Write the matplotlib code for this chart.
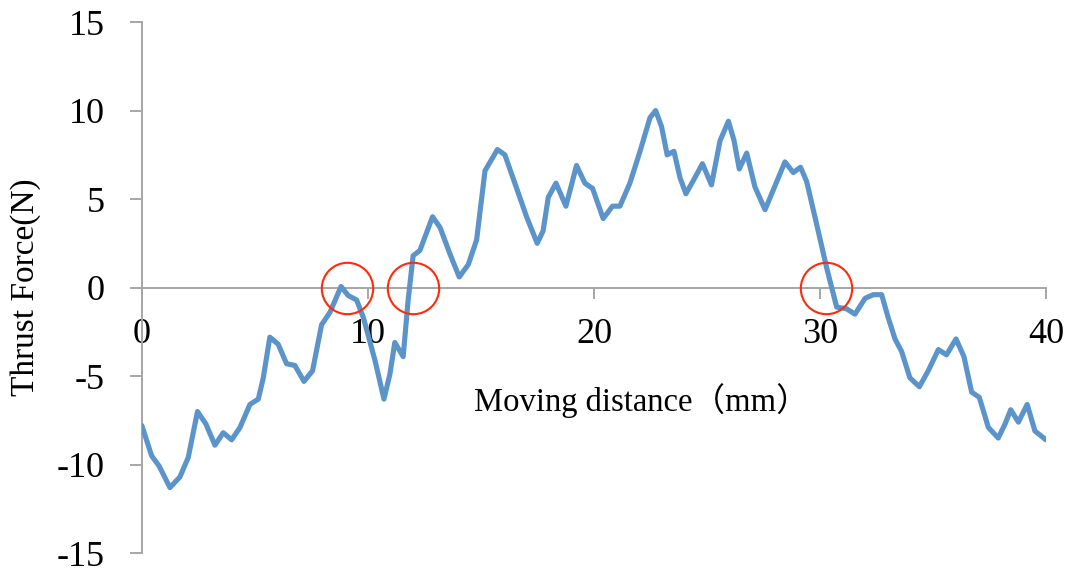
import matplotlib
matplotlib.use("Agg")
import matplotlib.pyplot as plt

# Data
distance = [0.0, 0.43, 0.77, 1.24, 1.68, 2.05, 2.46, 2.83, 3.23, 3.6,
            3.97, 4.34, 4.78, 5.15, 5.37, 5.66, 6.03, 6.4, 6.77, 7.17,
            7.55, 7.95, 8.32, 8.81, 9.13, 9.5, 9.8, 10.31, 10.71, 10.97,
            11.19, 11.56, 11.78, 12.0, 12.3, 12.86, 13.19, 13.63, 14.04, 14.44,
            14.81, 15.18, 15.73, 16.06, 16.5, 17.02, 17.49, 17.75, 17.98, 18.32,
            18.76, 19.23, 19.6, 19.94, 20.41, 20.82, 21.15, 21.59, 22.04, 22.48,
            22.73, 22.99, 23.24, 23.54, 23.81, 24.07, 24.42, 24.8, 25.2, 25.58,
            25.95, 26.2, 26.43, 26.76, 27.12, 27.57, 27.93, 28.45, 28.82, 29.14,
            29.41, 29.85, 30.3, 30.74, 31.18, 31.55, 32.0, 32.36, 32.73, 33.02,
            33.32, 33.61, 33.98, 34.4, 34.79, 35.24, 35.6, 36.02, 36.37, 36.71,
            37.05, 37.45, 37.89, 38.19, 38.44, 38.78, 39.17, 39.51, 40.0]
force = [-7.8, -9.5, -10.1, -11.3, -10.7, -9.6, -7.0, -7.7, -8.9, -8.2,
         -8.6, -7.9, -6.6, -6.3, -5.1, -2.8, -3.2, -4.3, -4.4, -5.3,
         -4.7, -2.1, -1.4, 0.06, -0.45, -0.7, -1.7, -4.1, -6.3, -4.9,
         -3.1, -3.9, -0.7, 1.8, 2.1, 4.0, 3.4, 1.9, 0.6, 1.3,
         2.7, 6.6, 7.8, 7.5, 5.9, 4.0, 2.5, 3.2, 5.1, 5.9,
         4.6, 6.9, 5.9, 5.6, 3.9, 4.6, 4.6, 5.9, 7.7, 9.6,
         10.0, 9.1, 7.5, 7.7, 6.2, 5.3, 6.1, 7.0, 5.8, 8.3,
         9.4, 8.3, 6.7, 7.6, 5.7, 4.4, 5.5, 7.1, 6.5, 6.8,
         6.0, 3.6, 1.1, -1.1, -1.2, -1.5, -0.6, -0.4, -0.4, -1.7,
         -2.9, -3.6, -5.1, -5.6, -4.7, -3.5, -3.8, -2.9, -3.9, -5.9,
         -6.2, -7.9, -8.5, -7.7, -6.9, -7.6, -6.6, -8.1, -8.6]

# zero crossings marked with red circles
crossings_x = [9.07, 11.99, 30.27]
crossings_y = [0, 0, 0]

xticks = [0, 10, 20, 30, 40]
yticks = [-15, -10, -5, 0, 5, 10, 15]

plt.rcParams['axes.unicode_minus'] = False
serif = ['Liberation Serif', 'Noto Sans CJK JP']

fig = plt.figure(figsize=(10.75, 5.81), dpi=100)
ax = fig.add_axes([0.132, 0.048, 0.841, 0.914])

ax.plot(distance, force, color='#5B93CB', linewidth=3.7,
        solid_joinstyle='round', solid_capstyle='round', zorder=3)
ax.plot(crossings_x, crossings_y, linestyle='none', marker='o', markersize=37,
        markerfacecolor='none', markeredgecolor='#FF2A0A', markeredgewidth=1.5,
        zorder=4)

ax.set_xlim(0, 40)
ax.set_ylim(-15, 15)
ax.set_xticks(xticks)
ax.set_yticks(yticks)

# axes through the origin
ax.spines['left'].set_position(('data', 0))
ax.spines['bottom'].set_position(('data', 0))
ax.spines['top'].set_visible(False)
ax.spines['right'].set_visible(False)
for side in ['left', 'bottom']:
    ax.spines[side].set_color('#A6A6A6')
    ax.spines[side].set_linewidth(1.4)

ax.tick_params(axis='both', colors='#A6A6A6', width=1.4, direction='out',
               labelcolor='black', labelsize=26)
ax.tick_params(axis='y', length=8.6, pad=18)
ax.tick_params(axis='x', length=8, pad=14)
for lab in ax.get_xticklabels() + ax.get_yticklabels():
    lab.set_family(serif)

ax.set_xlabel('Moving distance（mm）', fontsize=23.5, family=serif)
ax.xaxis.set_label_coords(0.552, 0.32)
ax.set_ylabel('Thrust Force(N)', fontsize=24, family=serif)
ax.yaxis.set_label_coords(-0.112, 0.5)

fig.savefig('out.png', dpi=100)
